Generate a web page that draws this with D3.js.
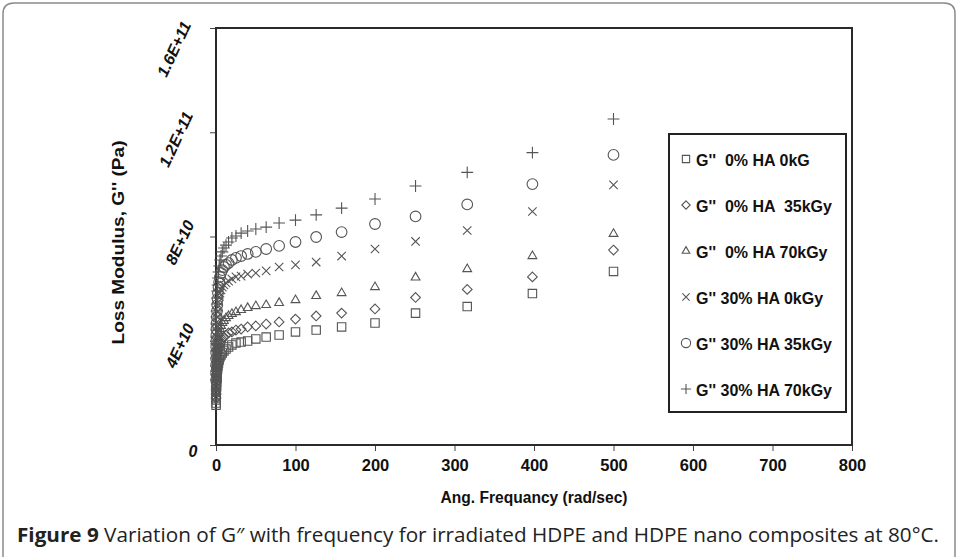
<!DOCTYPE html>
<html>
<head>
<meta charset="utf-8">
<script src="https://cdn.jsdelivr.net/npm/d3@7"></script>
<style>
  body { margin: 0; background: #fff; }
  text { font-family: "Liberation Sans", Arial, sans-serif; }
</style>
</head>
<body>
<div id="chart"></div>
<script>
// Angular frequency (rad/sec)
const freq = [0.1, 0.126, 0.158, 0.2, 0.251, 0.316, 0.398, 0.501, 0.631, 0.794,
  1, 1.26, 1.58, 2, 2.51, 3.16, 3.98, 5.01, 6.31, 7.94,
  10, 12.6, 15.8, 20, 25.1, 31.6, 39.8, 50.1, 63.1, 79.4,
  100, 126, 158, 200, 251, 316, 398, 500];

// G'' values, in units of 1E+9 Pa
const g0_0 = [15.3, 16.1, 17.3, 18.0, 19.2, 20.3, 21.5, 22.6, 23.4, 24.6,
  25.7, 26.9, 28.0, 29.2, 30.3, 31.5, 32.6, 33.8, 34.5, 35.3,
  36.1, 36.8, 37.6, 38.4, 39.1, 39.5, 39.9, 40.7, 41.4, 42.2,
  43.4, 44.1, 45.3, 46.8, 50.6, 53.1, 58.1, 66.6];
const g0_35 = [18.0, 19.6, 21.1, 22.3, 23.8, 24.9, 26.1, 27.2, 28.4, 29.5,
  30.7, 31.8, 33.0, 34.2, 35.3, 36.5, 37.6, 38.8, 39.5, 40.7,
  41.4, 42.2, 43.0, 43.4, 44.1, 44.5, 45.3, 45.7, 46.4, 47.2,
  48.3, 49.5, 50.6, 52.2, 56.6, 59.7, 64.5, 74.8];
const g0_70 = [20.3, 21.5, 22.6, 23.8, 24.9, 26.1, 27.6, 29.2, 30.7, 32.2,
  33.8, 35.3, 36.8, 38.4, 39.9, 41.4, 43.0, 44.5, 45.7, 46.8,
  47.6, 48.7, 49.5, 50.3, 51.0, 51.8, 52.6, 53.3, 53.7, 54.5,
  55.6, 57.2, 58.3, 60.6, 64.3, 67.5, 72.5, 81.0];
const g30_0 = [25.7, 28.0, 29.9, 31.8, 33.8, 35.7, 37.6, 39.5, 41.4, 43.4,
  45.3, 47.2, 49.1, 51.0, 53.0, 54.9, 56.8, 58.3, 59.5, 60.6,
  61.4, 62.2, 62.9, 63.7, 64.5, 64.8, 65.6, 66.0, 66.8, 68.3,
  69.1, 70.2, 72.5, 75.2, 78.1, 82.3, 89.6, 99.8];
const g30_35 = [24.9, 28.0, 30.7, 33.0, 35.3, 37.6, 39.9, 42.2, 44.5, 46.8,
  49.1, 51.4, 53.7, 56.0, 58.3, 60.6, 62.5, 64.5, 66.0, 67.1,
  68.3, 69.1, 69.8, 71.0, 71.8, 72.5, 73.3, 74.1, 75.2, 76.4,
  77.9, 79.8, 81.7, 84.8, 87.7, 92.3, 100.1, 111.3];
const g30_70 = [26.9, 30.3, 33.4, 36.1, 38.8, 41.4, 44.1, 46.4, 49.1, 51.4,
  54.1, 56.4, 59.1, 61.4, 64.1, 66.4, 68.7, 71.0, 72.5, 74.1,
  75.6, 76.7, 77.9, 79.4, 80.2, 81.3, 82.1, 82.9, 83.6, 85.2,
  86.3, 88.3, 90.9, 94.4, 99.4, 104.6, 112.2, 125.1];

const seriesNames = ["G''  0% HA 0kG", "G''  0% HA  35kGy", "G''  0% HA 70kGy",
  "G'' 30% HA 0kGy", "G'' 30% HA 35kGy", "G'' 30% HA 70kGy"];
const seriesValues = [g0_0, g0_35, g0_70, g30_0, g30_35, g30_70];

const xTicks = [0, 100, 200, 300, 400, 500, 600, 700, 800];
const yTicks = [0, 40, 80, 120, 160];
const yTickLabels = ["0", "4E+10", "8E+10", "1.2E+11", "1.6E+11"];

const width = 958, height = 557;
const margin = { top: 28, right: 106, bottom: 112, left: 216 };

const svg = d3.select('#chart').append('svg')
    .attr('width', width)
    .attr('height', height);

// outer figure frame
svg.append('path')
    .attr('d', 'M3,570 L3,14 Q3,3 14,3 L944,3 Q955,3 955,14 L955,570')
    .attr('fill', 'none')
    .attr('stroke', '#8a8a8a')
    .attr('stroke-width', 1.5);

const x = d3.scaleLinear().domain([0, 800]).range([margin.left, width - margin.right]);
const y = d3.scaleLinear().domain([0, 160]).range([height - margin.bottom, margin.top]);

// x axis
const xAxis = svg.append('g')
    .attr('transform', `translate(0,${y(0)})`)
    .call(d3.axisBottom(x).tickValues(xTicks).tickSize(6).tickPadding(8).tickFormat(d3.format('d')));
xAxis.select('.domain').remove();
xAxis.selectAll('line').attr('stroke', '#444').attr('stroke-width', 1);
xAxis.selectAll('text')
    .attr('fill', '#111')
    .style('font-size', '16.5px')
    .style('font-weight', 'bold');

// y axis
const yAxis = svg.append('g')
    .attr('transform', `translate(${x(0)},0)`)
    .call(d3.axisLeft(y).tickValues(yTicks).tickSize(6).tickFormat(''));
yAxis.select('.domain').remove();
yAxis.selectAll('line').attr('stroke', '#444').attr('stroke-width', 1);

// rotated tick labels sit a little below their ticks
const yLabelDx = [193, 180, 180, 176, 174];
const yLabelDy = [6, 5, 6, 7, 21];
yTicks.forEach((t, i) => {
    svg.append('text')
        .attr('transform', `translate(${yLabelDx[i]},${y(t) + yLabelDy[i]}) rotate(${i === 0 ? 0 : -65})`)
        .attr('text-anchor', 'middle')
        .attr('dominant-baseline', 'central')
        .attr('fill', '#111')
        .style('font-size', '16px')
        .style('font-weight', 'bold')
        .style('font-style', 'italic')
        .text(yTickLabels[i]);
});

// plot frame
svg.append('rect')
    .attr('x', x(0)).attr('y', y(160))
    .attr('width', x(800) - x(0)).attr('height', y(0) - y(160))
    .attr('fill', 'none')
    .attr('stroke', '#2a2a2a')
    .attr('stroke-width', 2);

// axis titles
svg.append('text')
    .attr('transform', `translate(118,${(y(0) + y(160)) / 2 + 6}) rotate(-90)`)
    .attr('text-anchor', 'middle')
    .attr('dominant-baseline', 'central')
    .attr('fill', '#111')
    .attr('textLength', 204)
    .attr('lengthAdjust', 'spacingAndGlyphs')
    .style('font-size', '17px')
    .style('font-weight', 'bold')
    .text("Loss Modulus, G'' (Pa)");

svg.append('text')
    .attr('x', 534).attr('y', 503)
    .attr('text-anchor', 'middle')
    .attr('fill', '#111')
    .attr('textLength', 187)
    .attr('lengthAdjust', 'spacingAndGlyphs')
    .style('font-size', '16px')
    .style('font-weight', 'bold')
    .text('Ang. Frequancy (rad/sec)');

// markers
const symbols = [
    { type: d3.symbolSquare2 || d3.symbolSquare, size: 90 },
    { type: d3.symbolDiamond2 || d3.symbolDiamond, size: 60 },
    { type: d3.symbolTriangle2 || d3.symbolTriangle, size: 55 },
    { type: d3.symbolTimes || d3.symbolCross, size: 48 },
    { type: d3.symbolCircle, size: 90 },
    { type: d3.symbolPlus || d3.symbolCross, size: 48 }
];

seriesValues.forEach((vals, si) => {
    const data = freq.map((f, i) => ({ f, v: vals[i] }));
    svg.append('g').selectAll('path')
        .data(data)
        .enter()
        .append('path')
        .attr('transform', d => `translate(${x(d.f)},${y(d.v)})`)
        .attr('d', d3.symbol().type(symbols[si].type).size(symbols[si].size))
        .attr('fill', 'none')
        .attr('stroke', '#555')
        .attr('stroke-width', 1.1);
});

// legend
const legend = svg.append('g');
legend.append('rect')
    .attr('x', 669).attr('y', 134)
    .attr('width', 177).attr('height', 278)
    .attr('fill', '#fff')
    .attr('stroke', '#222')
    .attr('stroke-width', 2);

seriesNames.forEach((name, i) => {
    const ly = 159 + i * 46;
    legend.append('path')
        .attr('transform', `translate(686,${ly})`)
        .attr('d', d3.symbol().type(symbols[i].type).size(symbols[i].size * 0.75))
        .attr('fill', 'none')
        .attr('stroke', '#555')
        .attr('stroke-width', 1.1);
    legend.append('text')
        .attr('x', 696).attr('y', ly + 1)
        .attr('dominant-baseline', 'central')
        .attr('fill', '#111')
        .style('font-size', '16px')
        .style('font-weight', 'bold')
        .style('white-space', 'pre')
        .text(name);
});

// caption
const caption = svg.append('text')
    .attr('x', 17).attr('y', 542)
    .attr('fill', '#222')
    .attr('textLength', 922)
    .attr('lengthAdjust', 'spacingAndGlyphs')
    .style('font-family', '"Open Sans", "Noto Sans", sans-serif')
    .style('font-size', '20px');
caption.append('tspan').style('font-weight', 'bold').text('Figure 9');
caption.append('tspan').text(' Variation of G\u2033 with frequency for irradiated HDPE and HDPE nano composites at 80\u00b0C.');
</script>
</body>
</html>
